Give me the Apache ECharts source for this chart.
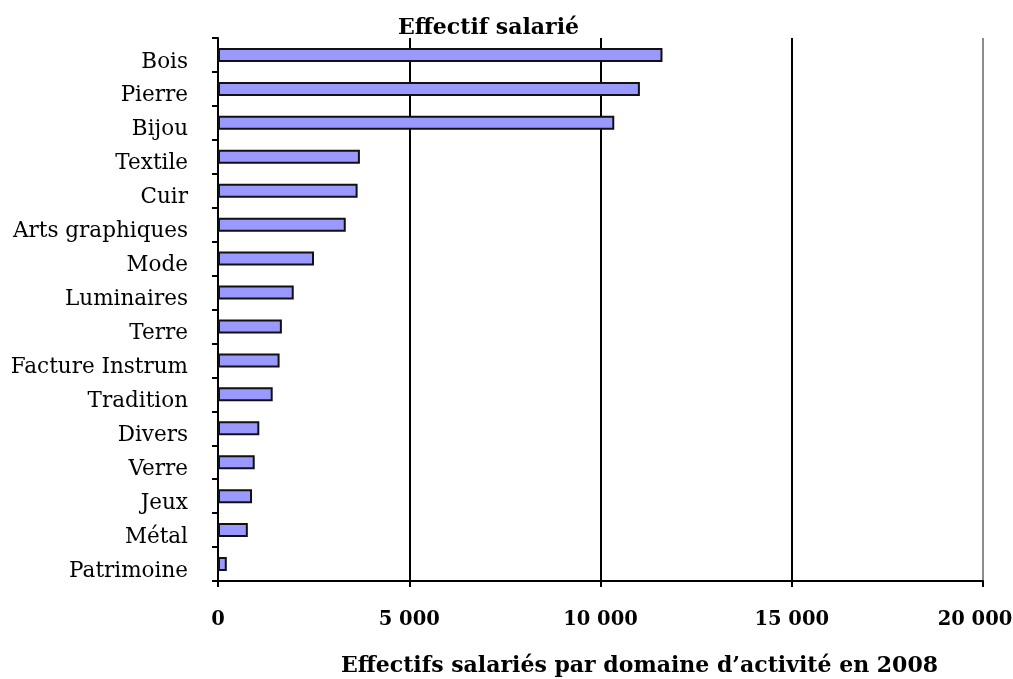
<!DOCTYPE html>
<html>
<head>
<meta charset="utf-8">
<script src="https://cdn.jsdelivr.net/npm/echarts@6/dist/echarts.min.js"></script>
<style>
  html, body { margin: 0; padding: 0; background: #fff; }
  #chart { width: 1013px; height: 679px; }
</style>
</head>
<body>
<div id="chart"></div>
<script>
// Salaried workforce by craft domain, 2008
const domaines = [
  'Bois', 'Pierre', 'Bijou', 'Textile', 'Cuir', 'Arts graphiques', 'Mode',
  'Luminaires', 'Terre', 'Facture Instrum', 'Tradition', 'Divers', 'Verre',
  'Jeux', 'Métal', 'Patrimoine'
];
const effectifs = [
  11620, 11030, 10360, 3710, 3650, 3340, 2510,
  1980, 1670, 1610, 1430, 1080, 960,
  890, 780, 230
];
const xTicks = [0, 5000, 10000, 15000, 20000];

const serif = '"DejaVu Serif", "Liberation Serif", serif';
const fmt = v => String(v).replace(/\B(?=(\d{3})+(?!\d))/g, ' ');

const chart = echarts.init(document.getElementById('chart'), null, { renderer: 'canvas' });
chart.setOption({
  animation: false,
  backgroundColor: '#ffffff',
  title: {
    text: 'Effectif salarié',
    left: 398,
    top: 17,
    padding: 0,
    textStyle: { fontFamily: serif, fontSize: 22, fontWeight: 'bold', color: '#000' }
  },
  grid: {
    left: 218, right: 30, top: 38, bottom: 98,
    containLabel: false,
    outerBoundsMode: 'none'
  },
  xAxis: {
    type: 'value',
    min: xTicks[0],
    max: xTicks[xTicks.length - 1],
    interval: xTicks[1] - xTicks[0],
    name: 'Effectifs salariés par domaine d’activité en 2008',
    nameLocation: 'middle',
    nameGap: 74,
    nameTextStyle: {
      fontFamily: serif, fontSize: 22, fontWeight: 'bold', color: '#000',
      padding: [0, 0, 0, 78]
    },
    axisLine: { show: true, lineStyle: { color: '#000', width: 2 } },
    axisTick: { show: true, inside: false, length: 6, lineStyle: { color: '#000', width: 2 } },
    axisLabel: {
      margin: 29,
      fontFamily: serif, fontSize: 19.5, fontWeight: 'bold', color: '#000',
      formatter: v => v === xTicks[xTicks.length - 1] ? '{last|' + fmt(v) + '}' : fmt(v),
      rich: {
        last: { fontFamily: serif, fontSize: 19.5, fontWeight: 'bold', color: '#000', padding: [0, 16, 0, 0] }
      }
    },
    splitLine: {
      show: true,
      showMinLine: false,
      showMaxLine: true,
      lineStyle: { color: ['#000', '#000', '#000', '#8c8c8c'], width: 2 }
    }
  },
  yAxis: {
    type: 'category',
    data: domaines,
    inverse: true,
    axisLine: { show: true, lineStyle: { color: '#000', width: 2 } },
    axisTick: { show: true, inside: false, length: 6, alignWithLabel: false, lineStyle: { color: '#000', width: 2 } },
    axisLabel: {
      margin: 30,
      fontFamily: serif, fontSize: 21.5, color: '#000',
      verticalAlign: 'top',
      lineHeight: 14
    },
    splitLine: { show: false }
  },
  series: [{
    type: 'bar',
    data: effectifs,
    barWidth: 14,
    itemStyle: { color: '#9999ff', borderColor: '#111', borderWidth: 2 },
    emphasis: { disabled: true }
  }]
});
</script>
</body>
</html>
